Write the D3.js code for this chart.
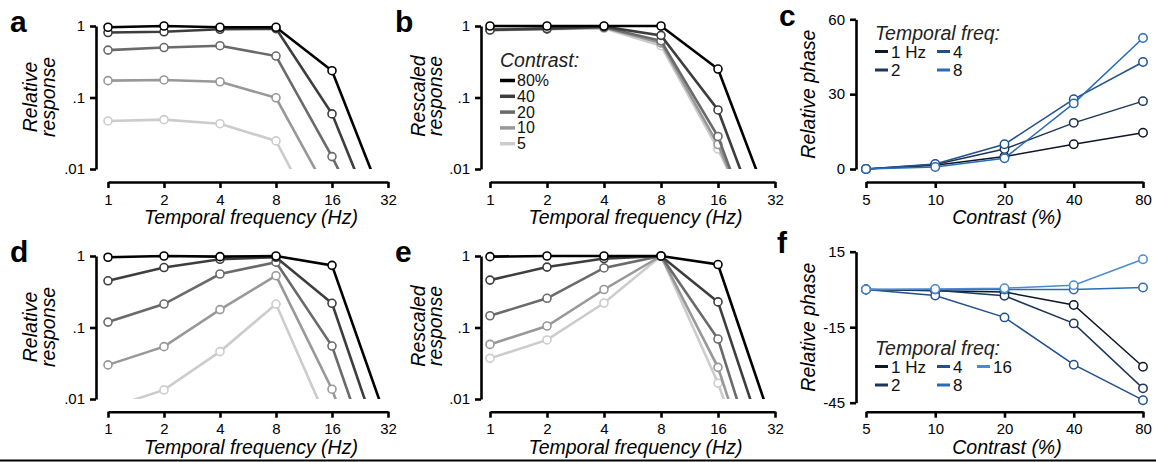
<!DOCTYPE html>
<html>
<head>
<meta charset="utf-8">
<script src="https://cdn.jsdelivr.net/npm/d3@7"></script>
<style>
  body { margin: 0; background: #fff; }
  svg { display: block; font-family: "Liberation Sans", Arial, sans-serif; }
</style>
</head>
<body>
<svg width="1156" height="462"></svg>
<script>
// response vs temporal frequency at 5 contrasts (a,b,d,e)
// and phase vs contrast at several temporal freqs (c,f)

const freqs = [1, 2, 4, 8, 16, 32];
const contrastNames = ['80%', '40', '20', '10', '5'];

// a - relative response, 80 / 40 / 20 / 10 / 5 %
const respA80 = [0.96, 1.0, 0.96, 0.96, 0.237, 0.0024];
const respA40 = [0.81, 0.83, 0.90, 0.92, 0.059, 0.0007];
const respA20 = [0.46, 0.50, 0.53, 0.38, 0.0149, 0.0004];
const respA10 = [0.172, 0.176, 0.166, 0.099, 0.0037, 0.0001];
const respA5 = [0.047, 0.049, 0.043, 0.0247, 0.0008, 0.0001];

// b - rescaled response
const respB80 = [1.0, 1.0, 1.0, 1.0, 0.25, 0.002];
const respB40 = [0.88, 0.92, 0.98, 0.74, 0.067, 0.0005];
const respB20 = [0.90, 0.92, 0.96, 0.62, 0.0285, 0.0002];
const respB10 = [0.88, 0.91, 0.95, 0.58, 0.022, 0.0003];
const respB5 = [0.87, 0.90, 0.93, 0.53, 0.019, 0.0004];

// d - relative response
const respD80 = [0.96, 1.0, 0.98, 1.0, 0.74, 0.0044];
const respD40 = [0.45, 0.69, 0.90, 0.96, 0.218, 0.0011];
const respD20 = [0.119, 0.213, 0.56, 0.82, 0.055, 0.0003];
const respD10 = [0.030, 0.054, 0.178, 0.53, 0.0137, 0.0001];
const respD5 = [0.0074, 0.0134, 0.046, 0.213, 0.0035, 0.0001];

// e - rescaled response
const respE80 = [0.98, 1.0, 1.0, 1.0, 0.76, 0.0034];
const respE40 = [0.46, 0.70, 0.92, 1.0, 0.228, 0.0009];
const respE20 = [0.146, 0.256, 0.68, 1.0, 0.069, 0.0002];
const respE10 = [0.058, 0.105, 0.34, 1.0, 0.0277, 0.0001];
const respE5 = [0.037, 0.067, 0.22, 1.0, 0.0167, 0.0001];

const respTicks = [0.01, 0.1, 1];
const respTickLabels = ['.01', '.1', '1'];

const contrasts = [5, 10, 20, 40, 80];

// c - relative phase (deg)
const freqNamesC = ['1 Hz', '2', '4', '8'];
const phaseC1 = [0, 1.5, 5.0, 9.9, 14.5];
const phaseC2 = [0, 1.8, 8.0, 18.5, 27.2];
const phaseC4 = [0, 2.0, 9.9, 28.0, 42.9];
const phaseC8 = [0, 0.8, 4.3, 26.3, 52.5];
const phaseTicksC = [0, 30, 60];

// f - relative phase (deg)
const freqNamesF = ['1 Hz', '2', '4', '8', '16'];
const phaseF1 = [0, -0.5, -1.0, -6.2, -30.7];
const phaseF2 = [0, -0.3, -2.5, -13.5, -39.3];
const phaseF4 = [0, -2.4, -11.1, -29.9, -44.0];
const phaseF8 = [0, 0, 0, 0, 0.8];
const phaseF16 = [0, 0.2, 0.5, 1.7, 12.0];
const phaseTicksF = [-45, -15, 15];

const grays = ['#000000', '#3d3d3d', '#6a6a6a', '#989898', '#cccccc'];
const blues = ['#0e1628', '#1d3558', '#224f8e', '#2a6bb6', '#4b8ad2'];

const svg = d3.select('svg');

function styleAxis(sel) {
    sel.attr('font-size', 15)
        .attr('font-family', '"Liberation Sans", Arial, sans-serif');
    sel.select('.domain').attr('stroke-width', 2.6);
    sel.selectAll('.tick line').attr('stroke-width', 2.6);
    sel.selectAll('.tick text').attr('fill', '#000');
}

function yTitle(lines, xs, cy) {
    lines.forEach((t, i) => {
        svg.append('text')
            .attr('transform', `translate(${xs[i]},${cy}) rotate(-90)`)
            .attr('text-anchor', 'middle')
            .attr('font-style', 'italic')
            .attr('font-size', 19.5)
            .text(t);
    });
}

function letter(t, x, y) {
    svg.append('text')
        .attr('x', x).attr('y', y)
        .attr('font-weight', 'bold')
        .attr('font-size', 30)
        .text(t);
}

function xTitle(t, x, y) {
    svg.append('text')
        .attr('x', x).attr('y', y)
        .attr('text-anchor', 'middle')
        .attr('font-style', 'italic')
        .attr('font-size', 19.5)
        .text(t);
}

function logPanel(p) {
    const x = d3.scaleLog().base(2).domain([1, 32]).range([p.x0, p.x1]);
    const y = d3.scaleLog().domain([0.01, 1]).range([p.yBot, p.yTop]);

    svg.append('g')
        .attr('transform', `translate(${p.yAxisX},0)`)
        .call(d3.axisLeft(y).tickValues(respTicks)
            .tickFormat((d, i) => respTickLabels[i])
            .tickSize(6).tickSizeOuter(0).tickPadding(5))
        .call(styleAxis);

    svg.append('g')
        .attr('transform', `translate(0,${p.xAxisY})`)
        .call(d3.axisBottom(x).tickValues(freqs)
            .tickFormat(d3.format('d'))
            .tickSize(6).tickSizeOuter(0).tickPadding(6))
        .call(styleAxis);

    svg.append('clipPath').attr('id', 'clip-' + p.id)
        .append('rect')
        .attr('x', p.x0 - 10).attr('y', p.yTop - 20)
        .attr('width', p.x1 - p.x0 + 20)
        .attr('height', p.yBot - p.yTop + 20);

    const line = d3.line()
        .x((d, i) => x(freqs[i]))
        .y(d => y(d));

    // light to dark so the 80% curve is on top
    for (let k = p.series.length - 1; k >= 0; k--) {
        const vals = p.series[k];
        svg.append('path')
            .attr('d', line(vals))
            .attr('clip-path', `url(#clip-${p.id})`)
            .attr('fill', 'none')
            .attr('stroke', grays[k])
            .attr('stroke-width', 2.6);
        svg.append('g')
            .selectAll('circle')
            .data(vals.map((v, i) => ({ f: freqs[i], v })).filter(d => d.v >= 0.01))
            .join('circle')
            .attr('cx', d => x(d.f))
            .attr('cy', d => y(d.v))
            .attr('r', 4)
            .attr('fill', '#fff')
            .attr('stroke', grays[k])
            .attr('stroke-width', 1.6);
    }

    yTitle(p.yLabel, p.yLabelX, p.yLabelY);
    xTitle('Temporal frequency (Hz)', (p.x0 + p.x1) / 2 + 3, p.xAxisY + 42);
}

function phasePanel(p) {
    const x = d3.scaleLog().base(2).domain([5, 80]).range([866, 1143]);
    const y = d3.scaleLinear().domain(d3.extent(p.ticks)).range([p.yBot, p.yTop]);

    svg.append('g')
        .attr('transform', 'translate(856,0)')
        .call(d3.axisLeft(y).tickValues(p.ticks)
            .tickFormat(d => String(d))
            .tickSize(6).tickSizeOuter(0).tickPadding(5))
        .call(styleAxis);

    svg.append('g')
        .attr('transform', `translate(0,${p.xAxisY})`)
        .call(d3.axisBottom(x).tickValues(contrasts)
            .tickFormat(d3.format('d'))
            .tickSize(6).tickSizeOuter(0).tickPadding(6))
        .call(styleAxis);

    const line = d3.line()
        .x((d, i) => x(contrasts[i]))
        .y(d => y(d));

    p.series.forEach((vals, k) => {
        svg.append('path')
            .attr('d', line(vals))
            .attr('fill', 'none')
            .attr('stroke', blues[k])
            .attr('stroke-width', 1.5);
        svg.append('g')
            .selectAll('circle')
            .data(vals)
            .join('circle')
            .attr('cx', (d, i) => x(contrasts[i]))
            .attr('cy', d => y(d))
            .attr('r', 4.2)
            .attr('fill', '#fff')
            .attr('stroke', blues[k])
            .attr('stroke-width', 1.5);
    });

    yTitle(['Relative phase'], [815], (p.yTop + p.yBot) / 2);
    xTitle('Contrast (%)', 1007, p.xAxisY + 42);

    // legend
    const lg = svg.append('g').attr('transform', `translate(875,${p.legendY})`);
    lg.append('text')
        .attr('font-style', 'italic').attr('font-size', 19.5).attr('fill', '#222')
        .text('Temporal freq:');
    const colX = [0, 62, 102];
    p.names.forEach((name, i) => {
        const cx = colX[Math.floor(i / 2)];
        const cy = 18 + (i % 2) * 18.5;
        lg.append('line')
            .attr('x1', cx).attr('x2', cx + 13)
            .attr('y1', cy - 6).attr('y2', cy - 6)
            .attr('stroke', blues[i]).attr('stroke-width', 3);
        lg.append('text')
            .attr('x', cx + 16).attr('y', cy)
            .attr('font-size', 17).attr('fill', '#111')
            .text(name);
    });
}

logPanel({
    id: 'a', x0: 108, x1: 388, yAxisX: 96, yTop: 26, yBot: 169, xAxisY: 182,
    series: [respA80, respA40, respA20, respA10, respA5],
    yLabel: ['Relative', 'response'], yLabelX: [37, 55], yLabelY: 97
});
logPanel({
    id: 'b', x0: 490, x1: 775, yAxisX: 481, yTop: 26, yBot: 169, xAxisY: 182,
    series: [respB80, respB40, respB20, respB10, respB5],
    yLabel: ['Rescaled', 'response'], yLabelX: [425, 442], yLabelY: 96
});
logPanel({
    id: 'd', x0: 108, x1: 388, yAxisX: 96, yTop: 256, yBot: 399, xAxisY: 411.7,
    series: [respD80, respD40, respD20, respD10, respD5],
    yLabel: ['Relative', 'response'], yLabelX: [37, 55], yLabelY: 327
});
logPanel({
    id: 'e', x0: 490, x1: 775, yAxisX: 481, yTop: 256, yBot: 399, xAxisY: 411.7,
    series: [respE80, respE40, respE20, respE10, respE5],
    yLabel: ['Rescaled', 'response'], yLabelX: [425, 442], yLabelY: 326
});

phasePanel({
    ticks: phaseTicksC, yTop: 19.3, yBot: 169, xAxisY: 182,
    series: [phaseC1, phaseC2, phaseC4, phaseC8],
    names: freqNamesC, legendY: 39.5
});
phasePanel({
    ticks: phaseTicksF, yTop: 251.7, yBot: 402.7, xAxisY: 411.7,
    series: [phaseF1, phaseF2, phaseF4, phaseF8, phaseF16],
    names: freqNamesF, legendY: 354.5
});

// contrast legend in b
const lb = svg.append('g').attr('transform', 'translate(500,67)');
lb.append('text')
    .attr('font-style', 'italic').attr('font-size', 19.5).attr('fill', '#222')
    .text('Contrast:');
contrastNames.forEach((name, i) => {
    const cy = 19 + i * 15.8;
    lb.append('line')
        .attr('x1', 0).attr('x2', 15)
        .attr('y1', cy - 5.5).attr('y2', cy - 5.5)
        .attr('stroke', grays[i]).attr('stroke-width', 3.5);
    lb.append('text')
        .attr('x', 17).attr('y', cy)
        .attr('font-size', 16).attr('fill', '#111')
        .text(name);
});

letter('a', 10, 32);
letter('b', 395, 32);
letter('c', 779, 26);
letter('d', 10, 262);
letter('e', 395, 262);
letter('f', 777, 253);

svg.append('line')
    .attr('x1', 0).attr('x2', 1156)
    .attr('y1', 460.5).attr('y2', 460.5)
    .attr('stroke', '#000').attr('stroke-width', 2);
</script>
</body>
</html>
